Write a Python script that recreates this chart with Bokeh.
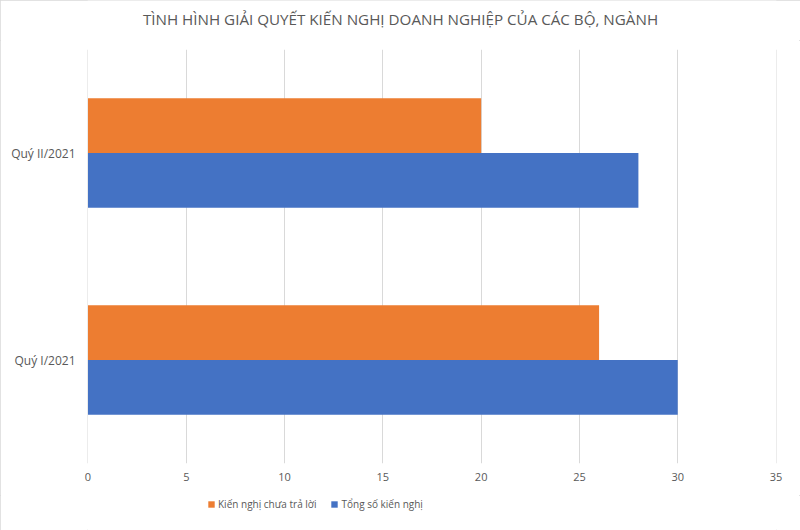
from bokeh.plotting import figure
from bokeh.layouts import column
from bokeh.models import (ColumnDataSource, FactorRange, Legend, LegendItem, Range1d,
                          FixedTicker, Label)
from bokeh.transform import dodge
from bokeh.embed import file_html
from bokeh.resources import INLINE

quarters = ["Quý I/2021", "Quý II/2021"]
chua_tra_loi = [26, 20]
tong_so = [30, 28]
x_ticks = [0, 5, 10, 15, 20, 25, 30, 35]

series_names = ["Kiến nghị chưa trả lời", "Tổng số kiến nghị"]
title_text = "TÌNH HÌNH GIẢI QUYẾT KIẾN NGHỊ DOANH NGHIỆP CỦA CÁC BỘ, NGÀNH"

ORANGE = "#ED7D31"
BLUE = "#4472C4"
FONT = "Open Sans"
TXT = "#595959"

src = ColumnDataSource(dict(q=quarters, a=chua_tra_loi, b=tong_so))

# ---- title strip (frame gets aligned to main frame: x 87..776) ----
tf = figure(width=800, height=40, output_backend="svg", toolbar_location=None,
            x_range=Range1d(0, 1), y_range=Range1d(0, 1),
            x_axis_location=None, y_axis_location=None,
            min_border=0, outline_line_color=None)
tf.grid.visible = False
tf.add_layout(Label(x=(400 - 87) / 689, y=0.55, text=title_text, text_align="center",
                    text_baseline="middle", text_font=FONT, text_font_size="15.2px",
                    text_color=TXT))

# ---- main chart ----
p = figure(width=800, height=455, output_backend="svg", toolbar_location=None,
           y_range=FactorRange(factors=quarters, range_padding=0),
           x_range=Range1d(-0.025, 35.025),
           min_border_left=87, min_border_right=24, min_border_top=9, min_border_bottom=32,
           outline_line_color=None)

ra = p.hbar(y=dodge("q", 0.132, range=p.y_range), right="a", left=0, height=0.264,
            source=src, color=ORANGE, line_color=None)
rb = p.hbar(y=dodge("q", -0.132, range=p.y_range), right="b", left=0, height=0.264,
            source=src, color=BLUE, line_color=None)

p.ygrid.grid_line_color = None
p.xgrid.grid_line_color = "#d9d9d9"
p.xgrid.ticker = FixedTicker(ticks=x_ticks)
p.xaxis.ticker = FixedTicker(ticks=x_ticks)
for ax in (p.xaxis[0], p.yaxis[0]):
    ax.axis_line_color = None
    ax.major_tick_line_color = None
    ax.minor_tick_line_color = None
    ax.major_tick_out = 0
    ax.major_label_text_font = FONT
    ax.major_label_text_color = TXT
p.xaxis.major_label_text_font_size = "11px"
p.yaxis.major_label_text_font_size = "12px"
p.xaxis.major_label_standoff = 9
p.yaxis.major_label_standoff = 12

# ---- legend strip (proxies drawn outside the visible y range) ----
lf = figure(width=800, height=35, output_backend="svg", toolbar_location=None,
            x_range=Range1d(0, 1), y_range=Range1d(0, 1),
            x_axis_location=None, y_axis_location=None,
            min_border=0, outline_line_color=None)
lf.grid.visible = False
la = lf.hbar(y=[-5], left=[0], right=[1], height=1, color=ORANGE, line_color=None)
lb = lf.hbar(y=[-5], left=[0], right=[1], height=1, color=BLUE, line_color=None)
legend = Legend(items=[LegendItem(label=series_names[0], renderers=[la]),
                       LegendItem(label=series_names[1], renderers=[lb])],
                orientation="horizontal", location=(120, 19),
                label_text_font=FONT, label_text_font_size="10px", label_text_color=TXT,
                glyph_width=8, glyph_height=8, spacing=14, label_standoff=3,
                border_line_color=None, background_fill_alpha=0, margin=0, padding=0)
lf.add_layout(legend, "center")

layout = column(tf, p, lf, spacing=0)
layout.styles = {"outline": "1px solid #d9d9d9", "outline-offset": "-1px"}
open("out.html", "w").write(file_html(layout, INLINE))
